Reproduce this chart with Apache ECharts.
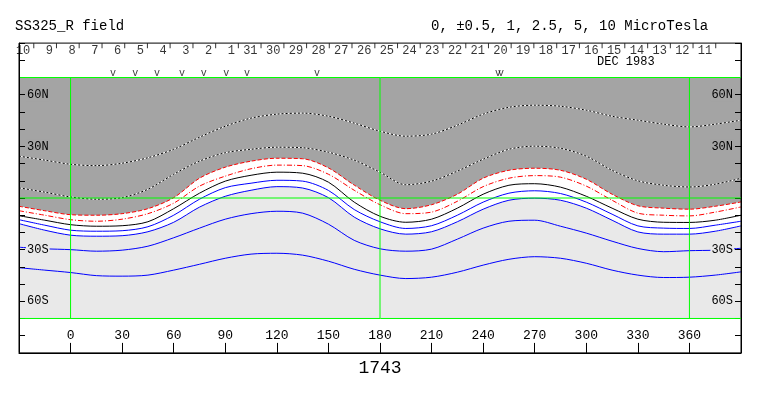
<!DOCTYPE html>
<html><head><meta charset="utf-8">
<script src="https://cdn.jsdelivr.net/npm/echarts@6/dist/echarts.min.js"></script>
<style>html,body{margin:0;padding:0;background:#fff}#c{width:763px;height:396px}</style>
</head><body><div id="c"></div>
<script>
// Carrington longitude samples
const lon = [-30,-15,0,15,30,45,60,75,90,105,120,135,150,165,180,195,210,225,240,255,270,285,300,315,330,345,360,375,390];
// contour latitudes (degrees)
const plus5    = [24.3,22.0,19.6,18.8,20.2,23.4,28.3,35.3,41.7,46.4,48.7,49.3,47.5,43.5,38.8,35.9,37.1,42.3,48.7,52.7,53.9,53.3,51.0,47.5,45.2,42.9,41.3,42.9,45.2];
const plus2_5  = [5.9,3.4,0.6,-0.7,0.2,5.1,13.8,21.4,26.3,28.3,29.5,29.2,26.6,22.0,15.0,7.7,9.8,15.6,22.5,28.3,30.1,28.9,24.3,16.1,10.0,7.4,6.4,8.0,11.5];
const plus1    = [-4.8,-7.4,-9.7,-10.0,-9.1,-6.2,0.2,11.5,17.9,21.4,23.1,22.8,17.5,7.5,-1.3,-6.2,-3.9,2.2,11.5,16.1,17.3,16.1,10.9,2.2,-4.5,-5.9,-6.5,-4.8,-2.3];
const plus0_5  = [-7.4,-10.0,-12.6,-13.5,-12.3,-9.1,-3.0,6.9,12.7,17.0,19.1,18.8,13.8,4.5,-3.9,-9.1,-8.2,-1.9,6.6,11.5,13.0,12.1,6.9,-1.3,-8.8,-10.0,-10.4,-8.2,-5.2];
const zero     = [-10.3,-12.9,-15.5,-16.4,-16.1,-13.8,-6.2,2.8,9.8,13.2,15.0,14.4,9.2,-2.4,-10.6,-14.1,-12.3,-5.9,2.2,7.4,8.3,6.3,1.0,-5.9,-12.3,-14.1,-14.2,-12.9,-10.0];
const minus0_5 = [-12.6,-15.8,-18.7,-19.3,-19.0,-16.7,-10.0,-0.7,6.0,8.6,10.3,9.8,4.4,-6.7,-13.8,-17.7,-16.1,-10.0,-2.4,2.8,4.2,2.6,-2.4,-9.4,-16.2,-17.5,-17.7,-15.8,-13.5];
const minus1   = [-14.9,-18.7,-21.6,-22.2,-21.9,-19.6,-14.1,-5.3,1.0,4.5,6.6,5.8,0.2,-11.1,-17.9,-21.0,-19.6,-13.8,-6.5,-1.3,-0.1,-1.3,-5.9,-12.9,-19.7,-21.0,-21.0,-19.3,-16.2];
const minus2_5 = [-28.6,-29.5,-30.0,-30.9,-30.3,-28.0,-23.1,-17.5,-12.3,-9.1,-7.7,-8.8,-15.2,-24.6,-29.5,-30.9,-29.7,-23.9,-17.5,-13.5,-12.9,-16.4,-20.4,-25.1,-29.3,-31.2,-30.6,-30.3,-29.2];
const minus5   = [-40.5,-41.9,-43.3,-45.1,-45.4,-44.8,-41.9,-38.5,-35.0,-32.6,-32.1,-33.2,-36.7,-41.4,-44.8,-46.8,-46.0,-43.1,-39.0,-35.6,-34.1,-35.0,-37.9,-41.9,-44.8,-46.2,-46.0,-44.8,-42.9];

// tick labels
const xTickLabels = [0,30,60,90,120,150,180,210,240,270,300,330,360];
const latTicks  = [60,30,-30,-60];
const latLabels = ['60N','30N','30S','60S'];
const dayLabels = [10,9,8,7,6,5,4,3,2,1,31,30,29,28,27,26,25,24,23,22,21,20,19,18,17,16,15,14,13,12,11];
const dayTickLon = [-21.4,-8.2,5.0,18.3,31.5,44.7,57.9,71.2,84.4,97.6,110.8,124.1,137.3,150.5,163.7,177.0,190.2,203.4,216.6,229.9,243.1,256.3,269.5,282.8,296.0,309.2,322.4,335.7,348.9,362.1,375.3];
const obsLon = [24.7,37.6,50.3,64.8,77.4,90.5,102.6,143.3,248.6,250.4];
// green reference lines
const greenLon = [0,180,360];
const greenLat = [70,0,-70];
const topBand = [69.5,70];
const bandLat = [-70,70];
const lonRange = [-30,390];

const FONT = 'Liberation Mono';
const DARK = '#a4a4a4', LIGHT = '#e9e9e9', GREEN = '#00ff00';
const SM = 0.3;
const pairs = arr => lon.map((x,i)=>[x, arr[i]]);

function contour(data, color, type, z){
  return {type:'line', xAxisIndex:0, yAxisIndex:0, data:pairs(data), smooth:SM, symbol:'none', silent:true, z:z||3,
    lineStyle:{color:color, width:1, type:type}};
}
function seg(a, b){
  return {type:'line', xAxisIndex:1, yAxisIndex:1, data:[a,b], symbol:'none', silent:true, zlevel:1, z:6, clip:false,
    lineStyle:{color:GREEN, width:1, type:'solid'}};
}

const series = [
  {type:'line', xAxisIndex:0, yAxisIndex:0, data:pairs(plus1), smooth:SM, symbol:'none', silent:true, z:1,
   lineStyle:{opacity:0, width:0}, areaStyle:{color:DARK, opacity:1, origin:'end'}},
  {type:'line', xAxisIndex:0, yAxisIndex:0, data:pairs(minus1), smooth:SM, symbol:'none', silent:true, z:1,
   lineStyle:{opacity:0, width:0}, areaStyle:{color:LIGHT, opacity:1, origin:'start'}},
  contour(plus5, '#ffffff', 'solid', 3),
  contour(plus5, '#000000', [2,2], 4),
  contour(plus2_5, '#ffffff', 'solid', 3),
  contour(plus2_5, '#000000', [2,2], 4),
  contour(plus1, '#ff0000', [4,2], 3),
  contour(plus0_5, '#ff0000', [5,2,1,2], 3),
  contour(zero, '#000000', 'solid', 3),
  contour(minus0_5, '#0000ff', 'solid', 3),
  contour(minus1, '#0000ff', 'solid', 3),
  contour(minus2_5, '#0000ff', 'solid', 3),
  contour(minus5, '#0000ff', 'solid', 3)
].concat(
  greenLon.map(v => seg([v, bandLat[0]], [v, bandLat[1]])),
  greenLat.map(v => seg([lonRange[0]+0.6, v], [lonRange[1], v]))
).concat([
  {type:'scatter', xAxisIndex:1, yAxisIndex:1, data:[], silent:true, zlevel:1, z:6,
   markArea:{silent:true, label:{show:false}, itemStyle:{color:GREEN, opacity:1, borderWidth:0},
     data:[[{coord:[lonRange[0]+0.6, topBand[0]]},{coord:[lonRange[1], topBand[1]]}]]}},
  {type:'scatter', xAxisIndex:1, yAxisIndex:1, data:dayTickLon.map(x=>[x,88.5]), symbol:'rect', symbolSize:[1,5],
   itemStyle:{color:'#000'}, silent:true, z:8,
   label:{show:true, position:'left', distance:3, offset:[0,5], fontFamily:FONT, fontSize:12, color:'#000',
     formatter:p=>String(dayLabels[p.dataIndex])}},
  {type:'scatter', xAxisIndex:1, yAxisIndex:1, data:obsLon.map(x=>[x,72.2]), symbolSize:1,
   itemStyle:{color:'rgba(0,0,0,0)'}, silent:true, z:8,
   label:{show:true, position:'inside', fontFamily:FONT, fontSize:10, color:'#000', formatter:'v'}}
]);

const latFmt = v => { const i = latTicks.indexOf(v); if (i<0) return ''; return (v<0?'{s|':'{n|') + latLabels[i] + '}'; };
const richLab = {
  n:{backgroundColor:DARK, fontFamily:FONT, fontSize:12, color:'#000', padding:[1,1]},
  s:{backgroundColor:LIGHT, fontFamily:FONT, fontSize:12, color:'#000', padding:[1,1]}
};

const option = {
  animation:false,
  backgroundColor:'#ffffff',
  title:[
    {text:'SS325_R field', left:15, top:19, padding:0, textStyle:{fontFamily:FONT, fontSize:14, fontWeight:'normal', color:'#000'}},
    {text:'0, \u00b10.5, 1, 2.5, 5, 10 MicroTesla', left:431, top:19, padding:0, textStyle:{fontFamily:FONT, fontSize:14, fontWeight:'normal', color:'#000'}},
    {text:'DEC 1983', left:597, top:56, padding:0, textStyle:{fontFamily:FONT, fontSize:12, fontWeight:'normal', color:'#000'}}
  ],
  grid:[
    {left:19, right:22, top:77.5, bottom:77.5, show:false, containLabel:false},
    {left:19, right:22, top:43.1, bottom:43.1, show:true, borderColor:'#000', borderWidth:1, backgroundColor:'rgba(0,0,0,0)', z:10, containLabel:false}
  ],
  xAxis:[
    {gridIndex:0, type:'value', min:lonRange[0], max:lonRange[1], show:false},
    {gridIndex:1, type:'value', min:lonRange[0], max:lonRange[1], interval:30, position:'bottom', z:10,
     axisLine:{show:true, onZero:false, lineStyle:{color:'#000', width:1}},
     axisTick:{show:true, inside:true, length:10, lineStyle:{color:'#000'}},
     axisLabel:{show:true, inside:true, margin:11, fontFamily:FONT, fontSize:13, color:'#000',
       formatter:v=> xTickLabels.includes(v) ? String(v) : ''},
     splitLine:{show:false},
     name:'1743', nameLocation:'middle', nameGap:4,
     nameTextStyle:{fontFamily:FONT, fontSize:18, color:'#000'}}
  ],
  yAxis:[
    {gridIndex:0, type:'value', min:bandLat[0], max:bandLat[1], show:false},
    {gridIndex:1, type:'value', min:-90, max:90, interval:10, position:'left', z:10,
     axisLine:{show:true, onZero:false, lineStyle:{color:'#000'}},
     axisTick:{show:true, inside:true, length:6, lineStyle:{color:'#000'}},
     axisLabel:{show:true, inside:true, margin:7, formatter:latFmt, rich:richLab},
     splitLine:{show:false}},
    {gridIndex:1, type:'value', min:-90, max:90, interval:10, position:'right', z:10,
     axisLine:{show:true, onZero:false, lineStyle:{color:'#000'}},
     axisTick:{show:true, inside:true, length:6, lineStyle:{color:'#000'}},
     axisLabel:{show:true, inside:true, margin:7, formatter:latFmt, rich:richLab},
     splitLine:{show:false}}
  ],
  series: series
};
const chart = echarts.init(document.getElementById('c'), null, {renderer:'canvas'});
chart.setOption(option);
</script></body></html>
